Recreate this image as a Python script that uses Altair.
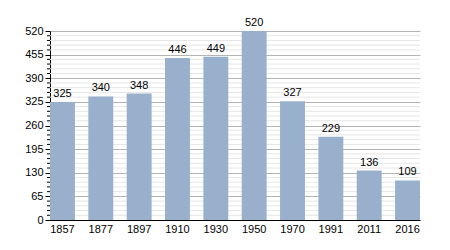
import altair as alt
import pandas as pd

years = ["1857", "1877", "1897", "1910", "1930", "1950", "1970", "1991", "2011", "2016"]
population = [325, 340, 348, 446, 449, 520, 327, 229, 136, 109]
major_ticks = [0, 65, 130, 195, 260, 325, 390, 455, 520]
minor_ticks = [v for v in range(0, 521, 13) if v % 65 != 0]

df = pd.DataFrame({"year": years, "pop": population})
minor_df = pd.DataFrame({"v": minor_ticks})

FONT = "Liberation Sans"
yscale = alt.Scale(domain=[0, 520], nice=False)
yaxis = alt.Axis(values=major_ticks, grid=True, gridColor="#b4b4b4", title=None,
                 tickColor="#000000", tickSize=5, domainColor="#000000",
                 labelFont=FONT, labelFontSize=11, labelColor="#000000",
                 labelPadding=2, labelOverlap=False, labelFlush=False,
                 labelBound=False)

minor_grid = alt.Chart(minor_df).mark_rule(color="#e6e6e6", strokeWidth=1).encode(
    y=alt.Y("v:Q", scale=yscale, axis=yaxis, title=None),
    x=alt.value(0), x2=alt.value(370),
)
minor_axis_ticks = alt.Chart(minor_df).mark_rule(color="#000000", strokeWidth=1).encode(
    y=alt.Y("v:Q", scale=yscale, axis=yaxis, title=None),
    x=alt.value(-3), x2=alt.value(0),
)

bars = alt.Chart(df).mark_bar(color="#98b0cc").encode(
    x=alt.X("year:N", sort=years, title=None,
            scale=alt.Scale(paddingInner=0.35, paddingOuter=0),
            axis=alt.Axis(labelAngle=0, ticks=False, domainColor="#000000",
                          labelFont=FONT, labelFontSize=11, labelColor="#000000",
                          labelPadding=3, domainWidth=1)),
    y=alt.Y("pop:Q", scale=yscale, title=None, axis=yaxis),
)

labels = alt.Chart(df).mark_text(font=FONT, fontSize=11, color="#000000",
                                 baseline="bottom", dy=-3).encode(
    x=alt.X("year:N", sort=years),
    y=alt.Y("pop:Q", scale=yscale, axis=yaxis, title=None),
    text="pop:Q",
)

chart = alt.layer(minor_grid, bars, minor_axis_ticks, labels).properties(
    width=370, height=189,
    padding={"left": 50, "top": 31, "right": 30, "bottom": 30},
    autosize=alt.AutoSizeParams(type="none"),
).configure_view(stroke=None).configure_axis(
    labelFontWeight="normal"
).configure_axisY(labelOverlap=False)

chart.save("out.html", embed_options={"renderer": "svg", "actions": False})
